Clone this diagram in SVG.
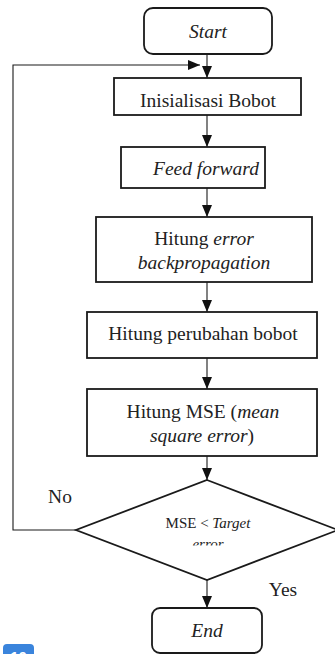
<svg xmlns="http://www.w3.org/2000/svg" width="335" height="654" viewBox="0 0 335 654">
<style>
.box{fill:#fff;stroke:#1a1a1a;stroke-width:1.8}
.ln{fill:none;stroke:#1a1a1a;stroke-width:1.1}
.t{font-family:"Liberation Serif","Times New Roman",serif;font-size:19.5px;fill:#222;text-anchor:middle}
.s{font-size:15px}
.i{font-style:italic}
</style>
<defs>
<marker id="ah" viewBox="0 0 12 10" refX="12" refY="5" markerWidth="12" markerHeight="10" markerUnits="userSpaceOnUse" orient="auto">
<path d="M0,0 L12,5 L0,10 Z" fill="#111"/>
</marker>
<clipPath id="clipErr"><rect x="150" y="530" width="120" height="15.5"/></clipPath>
</defs>
<rect width="335" height="654" fill="#fff"/>
<g id="connectors">
<line class="ln" x1="207" y1="54" x2="207" y2="78" marker-end="url(#ah)"/>
<polyline class="ln" points="76,530 13,530 13,65 200,65" marker-end="url(#ah)"/>
<line class="ln" x1="207" y1="115" x2="207" y2="147" marker-end="url(#ah)"/>
<line class="ln" x1="207" y1="188" x2="207" y2="217" marker-end="url(#ah)"/>
<line class="ln" x1="207" y1="282" x2="207" y2="312" marker-end="url(#ah)"/>
<line class="ln" x1="207" y1="358" x2="207" y2="389" marker-end="url(#ah)"/>
<line class="ln" x1="207" y1="456" x2="207" y2="480" marker-end="url(#ah)"/>
<line class="ln" x1="207" y1="580" x2="207" y2="608" marker-end="url(#ah)"/>
<text class="t" x="60" y="503">No</text>
<text class="t" x="283" y="596">Yes</text>
</g>
<g id="start">
<rect class="box" x="144" y="8" width="128" height="46" rx="9"/>
<text class="t i" x="208" y="38">Start</text>
</g>
<g id="init">
<rect class="box" x="114" y="78" width="187" height="37"/>
<text class="t" x="208" y="107">Inisialisasi Bobot</text>
</g>
<g id="feedforward">
<rect class="box" x="121" y="147" width="144" height="41"/>
<text class="t i" x="206" y="175">Feed forward</text>
</g>
<g id="backprop">
<rect class="box" x="96" y="217" width="216" height="65"/>
<text class="t" x="204" y="245">Hitung <tspan class="i">error</tspan></text>
<text class="t i" x="204" y="269">backpropagation</text>
</g>
<g id="perubahan">
<rect class="box" x="87" y="312" width="230" height="46"/>
<text class="t" x="203" y="340">Hitung perubahan bobot</text>
</g>
<g id="mse">
<rect class="box" x="87" y="389" width="230" height="67"/>
<text class="t" x="203" y="418">Hitung MSE (<tspan class="i">mean</tspan></text>
<text class="t" x="202" y="442"><tspan class="i">square error</tspan>)</text>
</g>
<g id="decision">
<polygon class="box" points="207,480 338,530 207,580 76,530"/>
<text class="t s" x="208" y="528">MSE &lt; <tspan class="i">Target</tspan></text>
<text class="t s i" x="208" y="549" clip-path="url(#clipErr)">error</text>
</g>
<g id="end">
<rect class="box" x="152" y="608" width="110" height="45" rx="8"/>
<text class="t i" x="207" y="637">End</text>
</g>
<g id="badge">
<rect x="3" y="644" width="31" height="20" rx="4" fill="#3a84dc"/>
<text x="18.5" y="662" font-family="Liberation Sans, Arial, sans-serif" font-size="15" font-weight="bold" fill="#fff" text-anchor="middle">10</text>
</g>
</svg>
